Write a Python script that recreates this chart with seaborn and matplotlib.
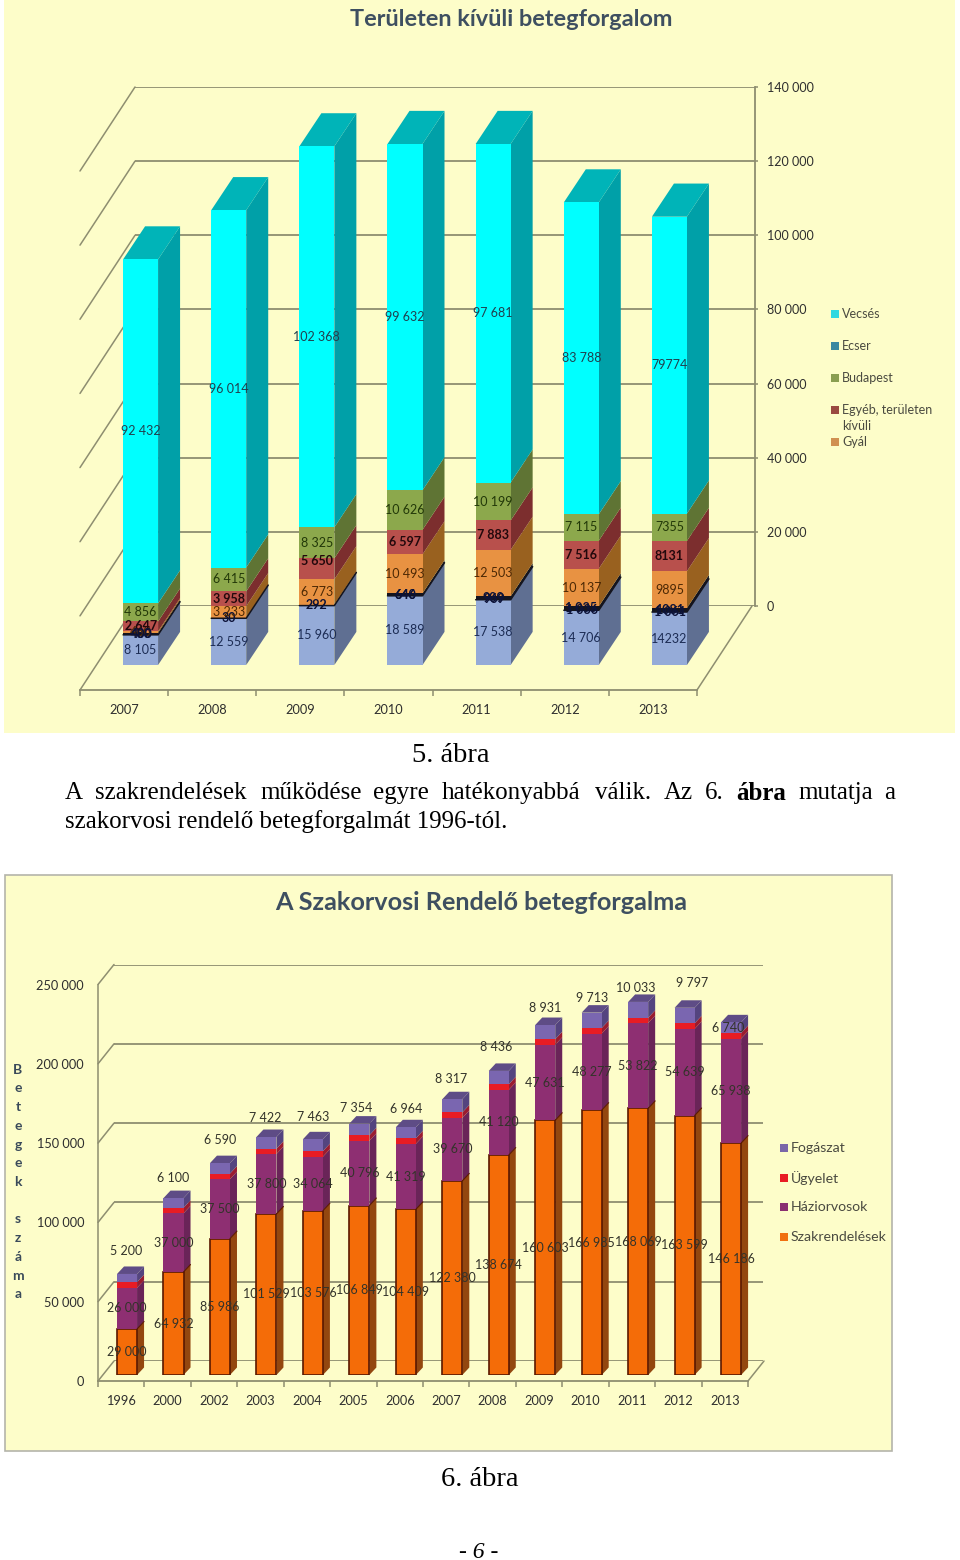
import matplotlib
matplotlib.use("Agg")
import matplotlib.pyplot as plt
import pandas as pd
import seaborn as sns
from matplotlib.patches import Rectangle
from matplotlib.ticker import FuncFormatter

# --- chart 5 data (stack order bottom to top) ---
years_5 = ["2007", "2008", "2009", "2010", "2011", "2012", "2013"]
blue_5 = [8105, 12559, 15960, 18589, 17538, 14706, 14232]
dark_5 = [480, 30, 292, 646, 909, 1035, 1081]
gyal_5 = [460, 3233, 6773, 10493, 12503, 10137, 9895]
egyeb_5 = [2647, 3958, 5650, 6597, 7883, 7516, 8131]
budapest_5 = [4856, 6415, 8325, 10626, 10199, 7115, 7355]
vecses_5 = [92432, 96014, 102368, 99632, 97681, 83788, 79774]
dark_twin_5 = ["400", None, None, "640", "969", "1 036", "1 061"]
yticks_5 = [0, 20000, 40000, 60000, 80000, 100000, 120000, 140000]

# --- chart 6 data ---
years_6 = ["1996", "2000", "2002", "2003", "2004", "2005", "2006",
           "2007", "2008", "2009", "2010", "2011", "2012", "2013"]
szak_6 = [29000, 64932, 85986, 101529, 103576, 106849, 104409,
          122380, 138674, 160603, 166985, 168069, 163599, 146186]
hazi_6 = [26000, 37000, 37500, 37800, 34064, 40796, 41319,
          39670, 41120, 47631, 48277, 53822, 54639, 65938]
ugyelet_6 = [3500, 3500, 3500, 3300, 3500, 3500, 3500,
             3500, 3500, 3500, 3500, 3300, 3500, 3500]
fog_6 = [5200, 6100, 6590, 7422, 7463, 7354, 6964,
         8317, 8436, 8931, 9713, 10033, 9797, 6740]
yticks_6 = [0, 50000, 100000, 150000, 200000, 250000]

# label lift above the bar top for the Fogaszat labels, in pixels
fog_lift = [23, 20, 23, 19, 22, 16, 18, 20, 24, 17, 15, 14, 25, -6]
fog_shift = [-1, 0, 0, -1, 0, -3, 0, -1, -3, 0, 0, -2, 8, -3]

W, H = 960, 1560
FONT = "Lato"
SERIF = "Liberation Serif"
GRID = "#8e8e70"
YELLOW = "#FDFDC9"
YMAX_5 = 140000

sns.set_theme(style="white")
plt.rcParams["font.family"] = [FONT, "DejaVu Sans"]
fig = plt.figure(figsize=(W / 100, H / 100), dpi=100, facecolor="white")


def axes_px(x0, y_top, x1, y_bot):
    ax = fig.add_axes([x0 / W, 1 - y_bot / H, (x1 - x0) / W, (y_bot - y_top) / H])
    ax.patch.set_visible(False)
    for s in ax.spines.values():
        s.set_visible(False)
    return ax


def spaced(v, p=None):
    return f"{int(v):,}".replace(",", " ")


# page layer in pixel coordinates: panels, captions, legends
page = fig.add_axes([0, 0, 1, 1], zorder=0)
page.set_xlim(0, W)
page.set_ylim(H, 0)
page.axis("off")
page.add_patch(Rectangle((4, 0), 951, 733, fc=YELLOW, ec="none"))
page.add_patch(Rectangle((5, 875), 887, 576, fc=YELLOW, ec="#b4b4aa", lw=1.2))

page.text(511, 19, "Területen kívüli betegforgalom", ha="center", va="center",
          fontsize=16.9, fontweight="bold", color="#3e4f60")
page.text(481, 903, "A Szakorvosi Rendelő betegforgalma", ha="center", va="center",
          fontsize=18.2, fontweight="bold", color="#3e4f60")
page.text(18, 1182, "B\ne\nt\ne\ng\ne\nk\n\ns\nz\ná\nm\na", ha="center", va="center",
          fontsize=10, fontweight="bold", color="#3a4a5a", linespacing=1.67)

# captions, the first body line is justified so words are set one by one
cap = dict(family=SERIF, color="black", va="center")
page.text(451, 755, "5. ábra", ha="center", fontsize=20.5, **cap)
words = [("A", 65), ("szakrendelések", 95), ("működése", 260), ("egyre", 373),
         ("hatékonyabbá", 442), ("válik.", 595), ("Az", 664), ("6.", 705),
         ("mutatja", 798), ("a", 884)]
for w, x in words:
    page.text(x, 793, w, ha="left", fontsize=18, **cap)
page.text(736, 793, "ábra", ha="left", fontsize=18, fontweight="bold", **cap)
page.text(65, 822, "szakorvosi rendelő betegforgalmát 1996-tól.", ha="left", fontsize=18, **cap)
page.text(480, 1480, "6. ábra", ha="center", fontsize=20.5, **cap)
page.text(479, 1552, "- 6 -", ha="center", fontsize=17, style="italic", **cap)


def legend_item(x, y, color, label, fs=9):
    page.add_patch(Rectangle((x, y - 4), 8, 8, fc=color, ec="none"))
    page.text(x + 11, y, label, ha="left", va="center", fontsize=fs, color="#4a4a40")


legend_item(831, 314, "#30D8E0", "Vecsés")
legend_item(831, 346, "#3A88A0", "Ecser")
legend_item(831, 378, "#8A9E50", "Budapest")
legend_item(831, 410, "#9A4A40", "Egyéb, területen")
page.text(842, 426, "kívüli", ha="left", va="center", fontsize=9, color="#4a4a40")
legend_item(831, 442, "#D09050", "Gyál")
legend_item(780, 1148, "#7A66A8", "Fogászat", 10.2)
legend_item(780, 1178, "#E81C24", "Ügyelet", 10.2)
legend_item(780, 1207, "#8A3070", "Háziorvosok", 10.2)
legend_item(780, 1237, "#F07010", "Szakrendelések", 10.2)


def draw_frame(front, back, cats, yticks, depth_x, depth_y, ytop):
    # back wall gridlines, floor and left wall diagonals
    n = len(cats)
    back.set_xlim(0, 1)
    back.set_ylim(0, ytop)
    back.set_xticks([])
    back.set_yticks(yticks)
    back.yaxis.set_major_formatter(FuncFormatter(spaced))
    back.grid(axis="y", color=GRID, lw=1.3)
    back.set_axisbelow(True)
    front.set_xlim(-0.5, n - 0.5)
    front.set_ylim(0, ytop)
    front.set_yticks([])
    front.set_xticks(range(n))
    front.set_xticklabels(cats)
    front.set_xticks([i - 0.5 for i in range(n + 1)], minor=True)
    front.tick_params(axis="x", which="major", length=0)
    front.tick_params(axis="x", which="minor", length=4.5, width=1.1, color=GRID, bottom=True)
    front.spines["bottom"].set_visible(True)
    front.spines["bottom"].set_color(GRID)
    front.spines["bottom"].set_linewidth(1.3)
    for v in yticks:
        front.plot([-0.5, -0.5 + depth_x], [v, v + depth_y], color=GRID, lw=1.1, clip_on=False)
    front.plot([n - 0.5, n - 0.5 + depth_x], [0, depth_y], color=GRID, lw=1.1, clip_on=False)


def draw_stack(ax, cats, stack, width, dx, dy, ytop, edges=None, top_color=None):
    # stack: list of (values, front, side) from bottom to top, cut off at ytop like the axis does
    n = len(cats)
    bottom = [0] * n
    for k, (values, c_front, c_side) in enumerate(stack):
        top = [min(b + v, ytop) for b, v in zip(bottom, values)]
        shown = [t - b for t, b in zip(top, bottom)]
        df = pd.DataFrame({"cat": cats, "val": shown})
        edge = edges[k] if edges else None
        sns.barplot(data=df, x="cat", y="val", bottom=bottom, color=c_front, saturation=1,
                    width=width, edgecolor=edge if edge else c_front,
                    linewidth=1.2 if edge else 0, errorbar=None, ax=ax, zorder=3)
        for i in range(n):
            xr = i + width / 2
            ax.fill([xr, xr + dx, xr + dx, xr], [bottom[i], bottom[i] + dy, top[i] + dy, top[i]],
                    color=c_side, lw=0, zorder=2, clip_on=False)
            if edge:
                ax.plot([xr, xr + dx], [top[i], top[i] + dy], color=edge, lw=0.8, zorder=4, clip_on=False)
        bottom = top
    for i, t in enumerate(bottom):
        xl, xr = i - width / 2, i + width / 2
        ax.fill([xl, xr, xr + dx, xl + dx], [t, t, t + dy, t + dy],
                color=top_color, lw=0, zorder=2, clip_on=False)
    ax.set_xlim(-0.5, n - 0.5)
    ax.set_ylim(0, ytop)
    ax.set_xlabel("")
    ax.set_ylabel("")
    ax.set_yticks([])
    ax.set_xticks([])
    return bottom


def put_labels(ax, values, bottoms, color, fs, ytop, weight="normal", plain=()):
    for i, (v, b) in enumerate(zip(values, bottoms)):
        y = (b + min(b + v, ytop)) / 2
        # the 2013 labels of chart 5 have no thousands space in the original
        s = str(v) if i in plain else spaced(v)
        ax.text(i, y, s, ha="center", va="center", fontsize=fs,
                color=color, fontweight=weight, zorder=6, clip_on=False)


# ---------- chart 5 ----------
back5 = axes_px(135, 87, 755, 606)
front5 = axes_px(80, 171, 697, 690)
bars5 = axes_px(96.5, 144, 713.5, 665)
for a in (back5, front5, bars5):
    a.set_zorder(1)

per_px_5 = YMAX_5 / 519
draw_frame(front5, back5, years_5, yticks_5, 55 / 88.14, 84 * per_px_5, YMAX_5)
back5.yaxis.tick_right()
back5.spines["right"].set_visible(True)
back5.spines["right"].set_color(GRID)
back5.spines["right"].set_linewidth(1.3)
back5.tick_params(axis="y", length=2, width=1.1, color=GRID, pad=6.5, labelsize=9, labelcolor="#2e2e2e")
front5.tick_params(axis="x", which="major", pad=10, labelsize=9.2, labelcolor="#2e2e2e")

stack5 = [
    (blue_5, "#95ABD8", "#5F6F92"),
    (dark_5, "#14141e", "#14141e"),
    (gyal_5, "#E89242", "#99611f"),
    (egyeb_5, "#B8504C", "#7C2E2E"),
    (budapest_5, "#8CA84C", "#5F7434"),
    (vecses_5, "#00FFFF", "#00A0A8"),
]
w5 = 35 / 88.14
d5x, d5y = 22 / 88.14, 33 * per_px_5
draw_stack(bars5, years_5, stack5, w5, d5x, d5y, YMAX_5, top_color="#00B4B8")
# dark band is thin, keep it visible as a line across face and side
for i, b in enumerate(blue_5):
    xl, xr = i - w5 / 2, i + w5 / 2
    bars5.plot([xl, xr, xr + d5x], [b, b, b + d5y], color="#14141e", lw=1.1, zorder=4, clip_on=False)

b0 = [0] * 7
colors5 = ["#1c2c54", "#0c1238", "#4c2804", "#22080c", "#223808", "#20404e"]
for (values, _, _), col in zip(stack5, colors5):
    bold = col in ("#0c1238", "#22080c")
    shown_b = list(b0)
    if values is egyeb_5:
        shown_b[2] += 8 * per_px_5  # the 2009 label sits higher in the original
    put_labels(bars5, values, shown_b, col, 9, YMAX_5, "bold" if bold else "normal", plain=(6,))
    b0 = [min(x + y, YMAX_5) for x, y in zip(b0, values)]
for i, s in enumerate(dark_twin_5):
    if s:
        bars5.text(i + 0.01, blue_5[i] + 100, s, ha="center", va="center", fontsize=9,
                   color="#0c1238", fontweight="bold", zorder=6)

# ---------- chart 6 ----------
back6 = axes_px(114, 964.5, 763, 1361)
front6 = axes_px(98, 984.5, 748, 1381)
bars6 = axes_px(103.8, 978.5, 754.3, 1375)
for a in (back6, front6, bars6):
    a.set_zorder(1)

per_px_6 = 250000 / 396.5
draw_frame(front6, back6, years_6, yticks_6, 16 / 46.4, 20 * per_px_6, 250000)
back6.tick_params(axis="y", length=0, labelleft=False)
front6.set_yticks(yticks_6)
front6.yaxis.set_major_formatter(FuncFormatter(spaced))
front6.spines["left"].set_visible(True)
front6.spines["left"].set_color(GRID)
front6.spines["left"].set_linewidth(1.1)
front6.tick_params(axis="y", length=3.5, width=1.1, color=GRID, pad=6.5, labelsize=9.2, labelcolor="#2e2e2e")
front6.tick_params(axis="x", which="major", pad=10, labelsize=9.2, labelcolor="#2e2e2e")

stack6 = [
    (szak_6, "#F46C08", "#93470f"),
    (hazi_6, "#8E2F72", "#6a2458"),
    (ugyelet_6, "#E81C24", "#9a1c30"),
    (fog_6, "#7A66B0", "#54447f"),
]
d6x, d6y = 7 / 46.4, 7.5 * per_px_6
tops6 = draw_stack(bars6, years_6, stack6, 20 / 46.4, d6x, d6y, 250000,
                   edges=["#5a1800", None, None, None], top_color="#5e4c86")

put_labels(bars6, szak_6, [0] * 14, "#33332a", 9, 250000)
put_labels(bars6, hazi_6, szak_6, "#33332a", 9, 250000)
for i, (v, t) in enumerate(zip(fog_6, tops6)):
    bars6.text(i + fog_shift[i] / 46.4, t + fog_lift[i] * per_px_6, spaced(v), ha="center", va="center",
               fontsize=9, color="#33332a", zorder=6, clip_on=False)

fig.savefig("out.png", dpi=100)
